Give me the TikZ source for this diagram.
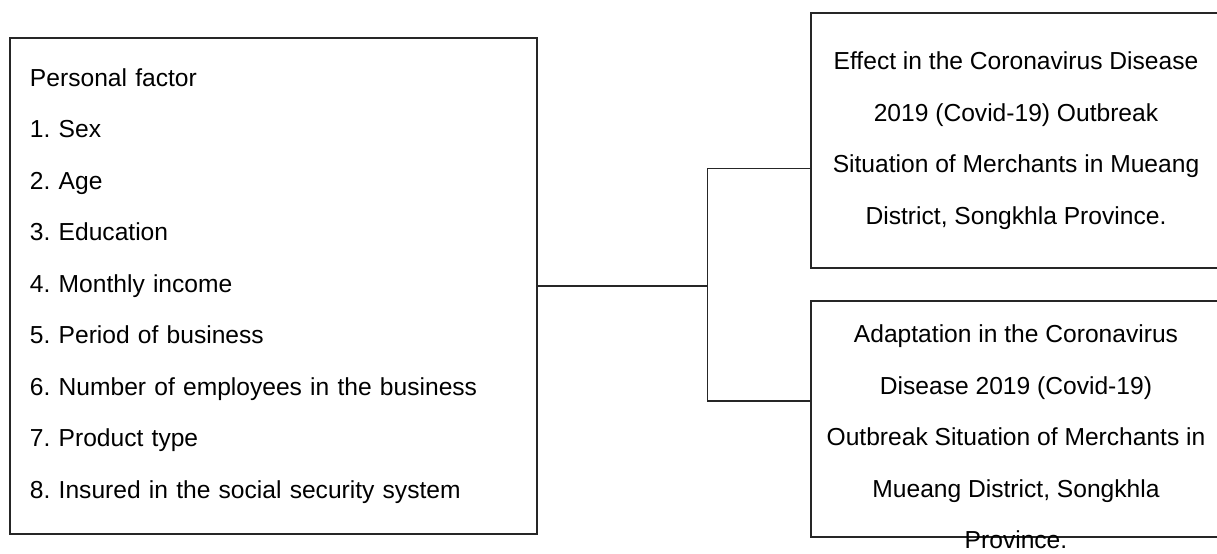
\documentclass[tikz,border=0pt]{standalone}
\usepackage{fontspec}
\setmainfont{Liberation Sans}
\usepackage{tikz}
\frenchspacing
\tikzset{
	framebox/.style={draw=black!85, line width=0.6pt, rectangle},
	linetext/.style={font=\fontsize{12.3pt}{25.75pt}\selectfont},
	link/.style={draw=black!85, line width=0.6pt},
}

\begin{document}
\begin{tikzpicture}[x=0.5pt, y=-0.5pt]
	\useasboundingbox (0,0) rectangle (1217,553);
	\node[framebox, linetext, align=left, text width=243.5pt, inner xsep=10pt, inner ysep=0pt, minimum height=248pt] (pers) at (273.5,286)
		{Personal factor\\
		1. Sex\\
		2. Age\\
		3. Education\\
		4. Monthly income\\
		5. Period of business\\
		6. Number of employees in the business\\
		7. Product type\\
		8. Insured in the social security system};
	\node[framebox, linetext, align=center, minimum width=205pt, minimum height=127.5pt] (eff) at (1016,140.5)
		{Effect in the Coronavirus Disease\\
		2019 (Covid-19) Outbreak\\
		Situation of Merchants in Mueang\\
		District, Songkhla Province.};
	\node[framebox, minimum width=205pt, minimum height=118pt] (adp) at (1016,419) {};
	\node[linetext, align=center] (adptext) at (1016,437)
		{Adaptation in the Coronavirus\\
		Disease 2019 (Covid-19)\\
		Outbreak Situation of Merchants in\\
		Mueang District, Songkhla\\
		Province.};
	\draw[link] (pers.east) -- ++(170,0) coordinate (jn);
	\draw[link] ([yshift=-14pt]eff.west) -| (jn) |- ([yshift=9pt]adp.west);
\end{tikzpicture}
\end{document}
